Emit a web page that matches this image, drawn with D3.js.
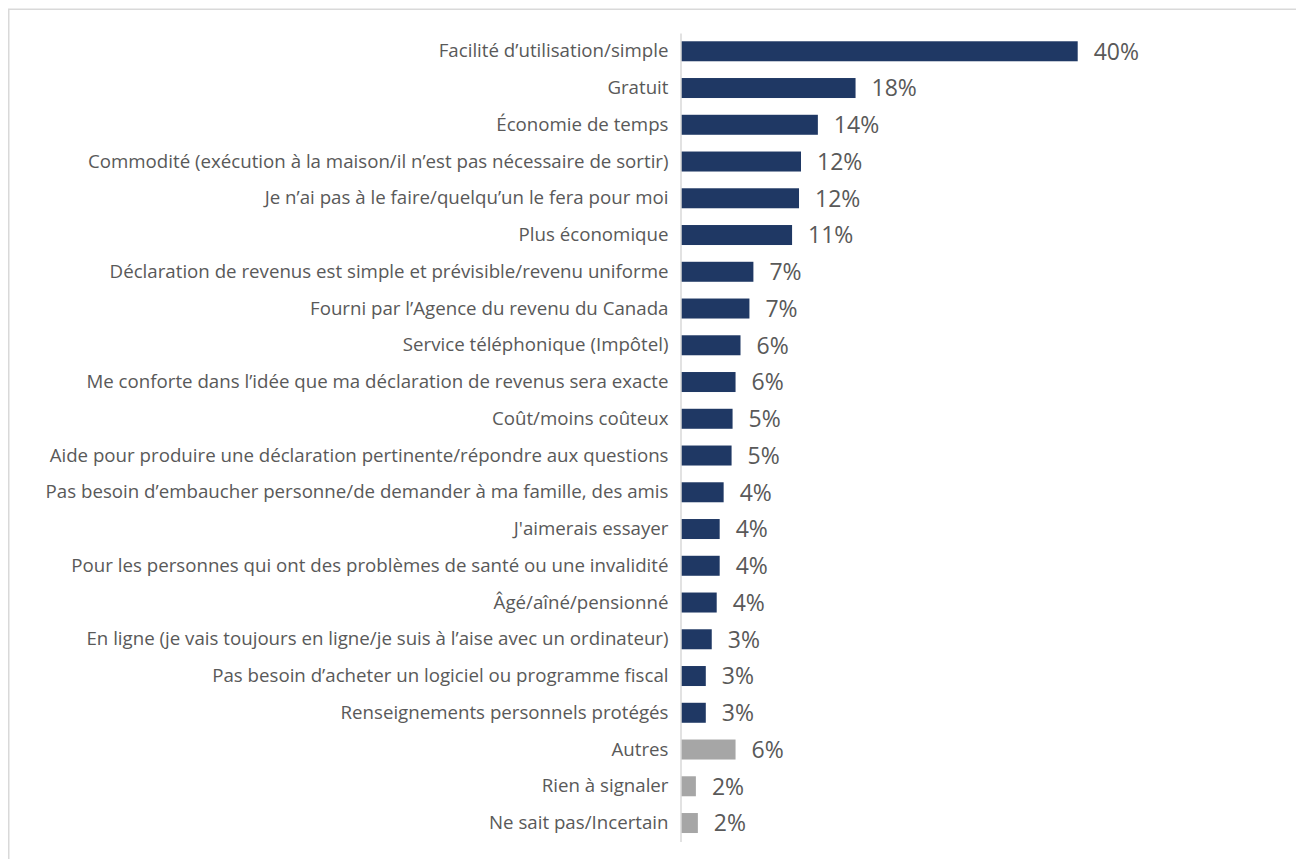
<!DOCTYPE html>
<html>
<head>
<meta charset="utf-8">
<script src="https://cdn.jsdelivr.net/npm/d3@7"></script>
<style>
  html, body { margin: 0; padding: 0; background: #ffffff; }
  svg { display: block; }
</style>
</head>
<body>
<svg id="chart" width="1296" height="859"></svg>
<script>
const categories = [
  "Facilité d’utilisation/simple",
  "Gratuit",
  "Économie de temps",
  "Commodité (exécution à la maison/il n’est pas nécessaire de sortir)",
  "Je n’ai pas à le faire/quelqu’un le fera pour moi",
  "Plus économique",
  "Déclaration de revenus est simple et prévisible/revenu uniforme",
  "Fourni par l’Agence du revenu du Canada",
  "Service téléphonique (Impôtel)",
  "Me conforte dans l’idée que ma déclaration de revenus sera exacte",
  "Coût/moins coûteux",
  "Aide pour produire une déclaration pertinente/répondre aux questions",
  "Pas besoin d’embaucher personne/de demander à ma famille, des amis",
  "J'aimerais essayer",
  "Pour les personnes qui ont des problèmes de santé ou une invalidité",
  "Âgé/aîné/pensionné",
  "En ligne (je vais toujours en ligne/je suis à l’aise avec un ordinateur)",
  "Pas besoin d’acheter un logiciel ou programme fiscal",
  "Renseignements personnels protégés",
  "Autres",
  "Rien à signaler",
  "Ne sait pas/Incertain"
];
const values = [40.0, 17.6, 13.8, 12.1, 11.9, 11.2, 7.3, 6.9, 6.0, 5.5, 5.2, 5.1, 4.3, 3.9, 3.9, 3.6, 3.1, 2.5, 2.5, 5.5, 1.5, 1.7];
const valueLabels = ["40%","18%","14%","12%","12%","11%","7%","7%","6%","6%","5%","5%","4%","4%","4%","4%","3%","3%","3%","6%","2%","2%"];
const groups = ["main","main","main","main","main","main","main","main","main","main","main","main","main","main","main","main","main","main","main","other","other","other"];

const colors = { main: "#1f3864", other: "#a6a6a6" };
const data = categories.map((c, i) => ({ cat: c, value: values[i], label: valueLabels[i], group: groups[i] }));

const svg = d3.select("#chart");

// frame
svg.append("rect")
  .attr("x", 8.75).attr("y", 9.25)
  .attr("width", 1400).attr("height", 1000)
  .attr("fill", "none").attr("stroke", "#d9d9d9").attr("stroke-width", 1.5);

const x = d3.scaleLinear().domain([0, 40]).range([681, 1077.7]);
const y = d3.scaleBand().domain(categories).range([32.9, 841.4]).paddingInner(0.456).paddingOuter(0.228);

// bars
svg.append("g").selectAll("rect").data(data).join("rect")
  .attr("x", x(0))
  .attr("y", d => y(d.cat))
  .attr("width", d => x(d.value) - x(0))
  .attr("height", y.bandwidth())
  .attr("fill", d => colors[d.group]);

// axis line
const yAxis = d3.axisLeft(y).tickSize(0).tickPadding(12);
const ag = svg.append("g").attr("transform", `translate(680.5,0)`).call(yAxis);
ag.select(".domain").attr("stroke", "#d9d9d9").attr("stroke-width", 1.5);
ag.selectAll(".tick text")
  .attr("fill", "#595959")
  .style("font-family", "'Open Sans', sans-serif")
  .style("font-size", "18.7px");

// value labels
svg.append("g").selectAll("text").data(data).join("text")
  .attr("x", d => x(d.value) + 16)
  .attr("y", d => y(d.cat) + y.bandwidth() / 2)
  .attr("dy", "0.36em")
  .attr("fill", "#595959")
  .style("font-family", "'Open Sans', sans-serif")
  .style("font-size", "23px")
  .text(d => d.label);
</script>
</body>
</html>
